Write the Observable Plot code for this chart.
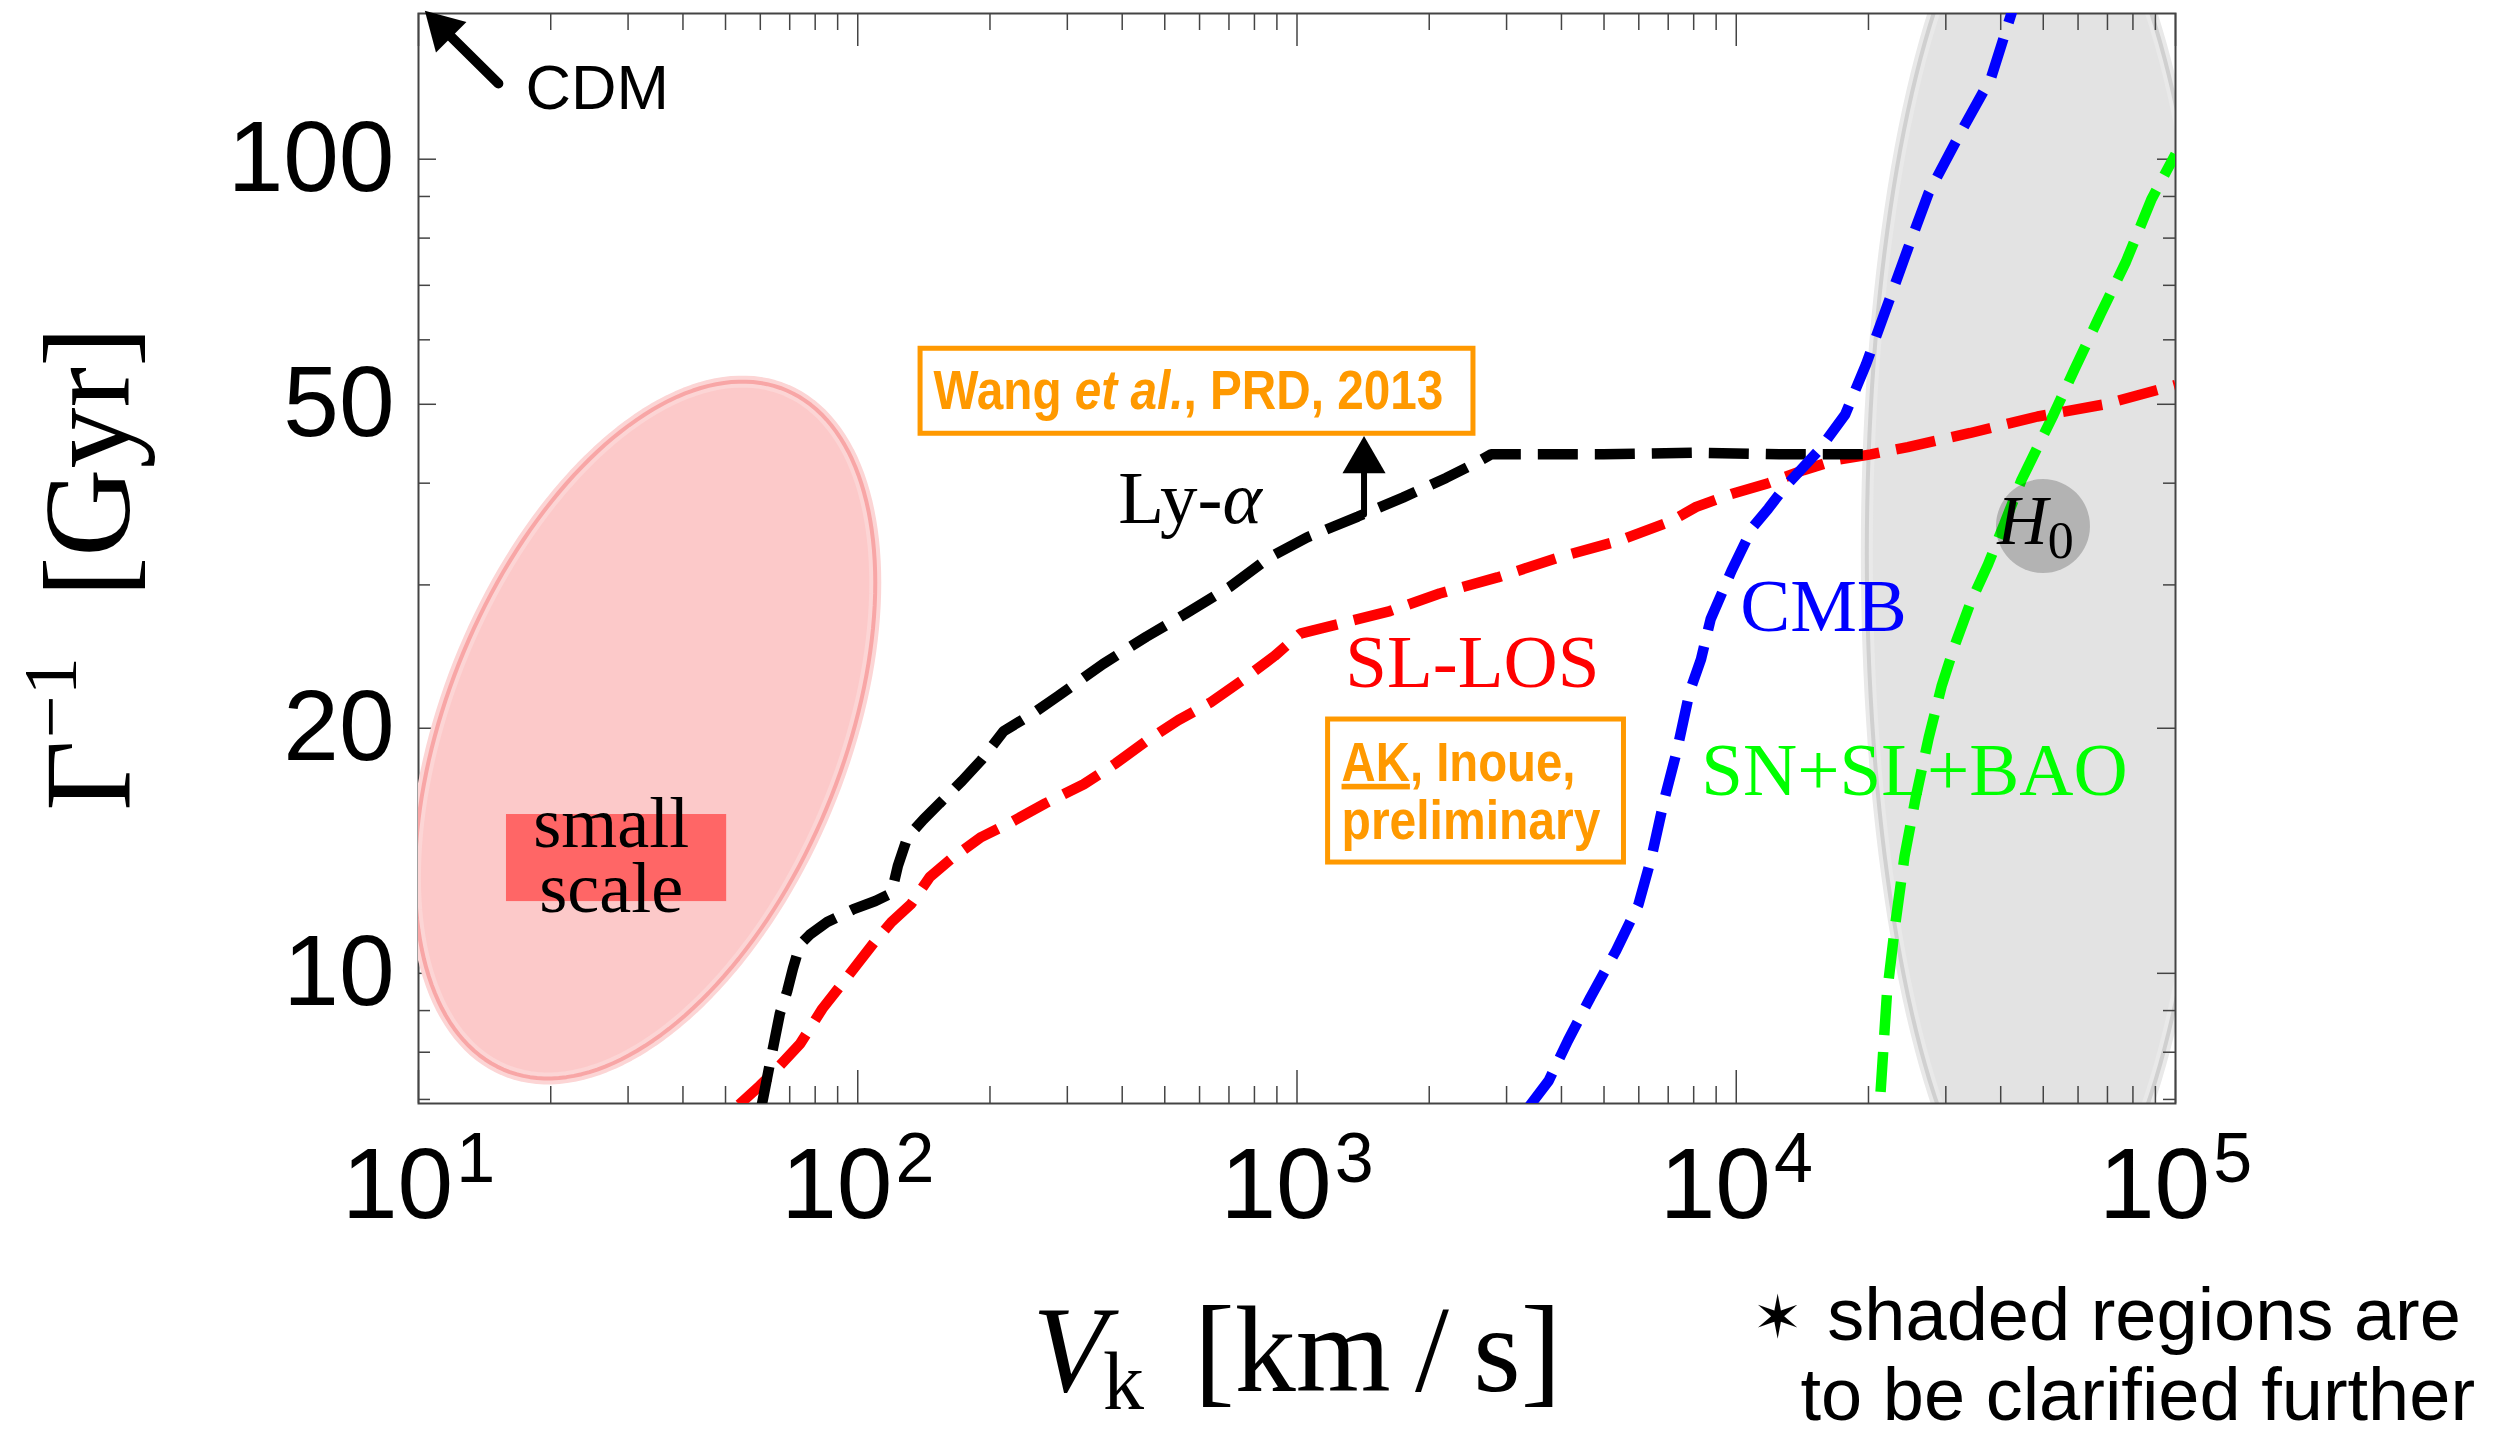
<!DOCTYPE html>
<html>
<head>
<meta charset="utf-8">
<script src="https://cdn.jsdelivr.net/npm/d3@7"></script>
<script src="https://cdn.jsdelivr.net/npm/@observablehq/plot@0.6"></script>
<style>
  html, body { margin: 0; padding: 0; background: #fff; }
  #chart svg { display: block; }
</style>
</head>
<body>
<div id="chart"></div>
<script>
// Decaying dark matter: kick velocity V_k [km/s] vs. lifetime Γ^-1 [Gyr]

// ---- constraint curves (lower bounds on the lifetime) ----
const lyaV = [60.4, 62.2, 64.4, 66.5, 69.1, 71.2, 73.9, 77.7, 85.2, 97.5, 109.7, 119.3, 123.4, 129.8, 141.1, 153.5, 172.7, 191, 214.8, 249.9, 285.9, 361.8, 453.9, 555.3, 702.6, 859.9, 1052, 1376, 1741, 2185, 2542, 2765, 4978, 8246, 12540, 20250];
const lyaG = [6.87, 7.45, 8.19, 8.93, 9.51, 10.14, 10.85, 11.15, 11.56, 11.98, 12.27, 12.54, 13.55, 14.70, 15.45, 16.17, 17.23, 18.27, 19.83, 20.84, 21.91, 23.99, 25.91, 27.61, 29.82, 32.35, 34.3, 36.4, 38.4, 40.6, 42.3, 43.4, 43.4, 43.6, 43.4, 43.4];

const slV = [53.7, 59.9, 65.2, 73.9, 83.1, 94.3, 108.8, 119.3, 132, 145.9, 164.2, 191, 225.9, 267.3, 327, 386.9, 453.9, 537, 635.3, 751.6, 889.1, 1017, 1244, 1628, 2112, 2859, 4001, 5415, 7088, 8107, 9750, 11830, 14230, 16840, 20250, 24580, 34110, 48540, 69090, 100000];
const slG = [6.90, 7.28, 7.62, 8.19, 9.05, 9.87, 10.90, 11.56, 12.15, 13.13, 13.86, 14.70, 15.38, 16.17, 17.07, 18.11, 19.29, 20.46, 21.51, 22.92, 24.54, 26.14, 26.86, 27.86, 29.28, 30.64, 32.5, 34.0, 35.9, 37.4, 38.8, 40.0, 41.5, 42.7, 43.4, 44.3, 46.1, 48.3, 50.0, 52.8];

const cmbV = [3382, 3741, 4139, 4655, 5325, 5990, 6407, 6852, 7328, 7838, 8313, 8744, 9750, 10880, 11830, 12870, 15480, 17710, 19750, 22030, 24580, 27420, 32170, 38050, 42440];
const cmbG = [6.87, 7.38, 8.27, 9.34, 10.66, 12.15, 13.86, 16.32, 18.77, 22.21, 24.31, 27.23, 31.2, 35.26, 37.23, 39.5, 44.0, 48.6, 56.0, 65.9, 77.6, 90.9, 107, 126, 151.8];

const snV = [21310, 22030, 22970, 24160, 25630, 27420, 29330, 31370, 34110, 37410, 40690, 44630, 52800, 58900, 67390, 77090, 88160, 100000];
const snG = [7.15, 9.43, 11.40, 13.92, 16.46, 19.47, 22.51, 25.21, 28.49, 31.77, 35.58, 40.39, 48.6, 55.2, 64.4, 74.8, 89.3, 101.4];

// ---- curve labels ----
const curveLabelText = ["Ly-α", "SL-LOS", "CMB", "SN+SL+BAO"];
const curveLabelV = [571, 2508, 15800, 25460];
const curveLabelG = [35.7, 22.46, 26.3, 16.55];
const curveColors = ["#000000", "#ff0000", "#0000ff", "#00ff00"];

// ---- shaded regions (ellipses in log–log space: centre, half-extent in decades, phase) ----
const smallScaleRegion = { cx: 32.8, cy: 19.9, hx: 0.524, hy: 0.428, phase: 65 };
const h0Region = { cx: 49800, cy: 32.8, hx: 0.40, hy: 0.845, phase: 90 };
const h0Spot = { v: 49920, g: 35.43 };
const h0Label = { text: "H0", v: 48010, g: 33.7 };
const smallScaleBox = { v1: 15.86, v2: 50.3, g1: 12.25, g2: 15.67 };
const smallScaleLabel = { text: "small\nscale", v: 27.46, g: 11.91 };

// ---- annotations ----
const cdmArrow = { v1: 15.2, g1: 123.9, v2: 10.37, g2: 151.9 };
const cdmText = { text: "CDM", v: 17.52, g: 115.3 };
const wangBox = { v1: 139, v2: 2522, g1: 46.0, g2: 58.5 };
const wangText = { text: "Wang et al., PRD, 2013", v: 566, g: 49.4 };
const wangArrow = { v1: 1421, g1: 36.6, v2: 1421, g2: 45.6 };
const akBox = { v1: 1177, v2: 5551, g1: 13.68, g2: 20.5 };
const akLines = ["AK, Inoue,", "preliminary"];
const akLinesV = [1263, 1263];
const akLinesG = [17.25, 14.63];
const footnoteLines = ["\u2736 shaded regions are", "to be clarified further"];

// ---- axes ----
const xMajor = [10, 100, 1000, 10000, 100000];
const xMinor = xMajor.slice(0, -1).flatMap(d => [2, 3, 4, 5, 6, 7, 8, 9].map(k => k * d));
const yMajor = [10, 20, 50, 100];
const yMinor = [7, 8, 9, 30, 40, 60, 70, 80, 90];
const xTitle = "Vk [km/s]";
const yTitle = "Γ-1 [Gyr]";

// ---- layout ----
const W = 2513, H = 1436;
const M = { top: 13, right: 338, bottom: 333, left: 418 };
const plotW = W - M.left - M.right;
const plotH = H - M.top - M.bottom;
const SANS = "Liberation Sans, Arial, Helvetica, sans-serif";
const SERIF = "Liberation Serif, Times New Roman, Times, serif";
const ORANGE = "#ff9900";
const FRAME = "#444444";
const DASH = "40,17";
const LINE_W = 10.5;

function ellipsePoints({ cx, cy, hx, hy, phase }, n = 180) {
  const p = phase * Math.PI / 180;
  return d3.range(n + 1).map(i => {
    const t = 2 * Math.PI * i / n;
    return { x: cx * Math.pow(10, hx * Math.cos(t)), y: cy * Math.pow(10, hy * Math.cos(t - p)) };
  });
}
const zipXY = (xs, ys) => xs.map((x, i) => ({ x, y: ys[i] }));

const pinkPts = ellipsePoints(smallScaleRegion);
const grayPts = ellipsePoints(h0Region);
const curveLabels = curveLabelText.map((t, i) => ({ t, v: curveLabelV[i], g: curveLabelG[i], c: curveColors[i] }));
const curves = [
  { pts: zipXY(snV, snG), c: "#00ff00" },
  { pts: zipXY(slV, slG), c: "#ff0000" },
  { pts: zipXY(lyaV, lyaG), c: "#000000" },
  { pts: zipXY(cmbV, cmbG), c: "#0000ff" }
];

const fig = Plot.plot({
  width: W, height: H,
  marginTop: M.top, marginRight: M.right, marginBottom: M.bottom, marginLeft: M.left,
  x: { type: "log", domain: [10, 1e5] },
  y: { type: "log", domain: [6.92, 151] },
  color: { type: "identity" },
  style: { background: "#fff", fontFamily: SANS },
  marks: [
    // H0-type shaded region (drawn beneath the frame ticks)
    Plot.line(grayPts, { x: "x", y: "y", fill: "#e3e3e3", stroke: "#e9e9e9", strokeWidth: 12, clip: true }),
    Plot.line(grayPts, { x: "x", y: "y", stroke: "#d0d0d0", strokeWidth: 4, clip: true }),

    // frame and inward ticks on all four sides
    Plot.frame({ stroke: FRAME, strokeWidth: 2 }),
    Plot.tickX(xMajor, { x: d => d, insetTop: plotH - 33, stroke: FRAME, strokeWidth: 1.5 }),
    Plot.tickX(xMinor, { x: d => d, insetTop: plotH - 17, stroke: FRAME, strokeWidth: 1.5 }),
    Plot.tickX(xMajor, { x: d => d, insetBottom: plotH - 33, stroke: FRAME, strokeWidth: 1.5 }),
    Plot.tickX(xMinor, { x: d => d, insetBottom: plotH - 17, stroke: FRAME, strokeWidth: 1.5 }),
    Plot.tickY(yMajor, { y: d => d, insetRight: plotW - 18, stroke: FRAME, strokeWidth: 1.5 }),
    Plot.tickY(yMinor, { y: d => d, insetRight: plotW - 12, stroke: FRAME, strokeWidth: 1.5 }),
    Plot.tickY(yMajor, { y: d => d, insetLeft: plotW - 18, stroke: FRAME, strokeWidth: 1.5 }),
    Plot.tickY(yMinor, { y: d => d, insetLeft: plotW - 12, stroke: FRAME, strokeWidth: 1.5 }),
    Plot.axisX({ ticks: xMajor, tickSize: 0, tickPadding: 43, tickFormat: d => `10^${Math.round(Math.log10(d))}`, fontSize: 100, fontFamily: SANS, label: null }),
    Plot.axisY({ ticks: yMajor, tickSize: 0, tickPadding: 24, tickFormat: d => String(d), fontSize: 100, fontFamily: SANS, label: null }),

    // small-scale region
    Plot.line(pinkPts, { x: "x", y: "y", fill: "#fcc9c9", stroke: "#fcd5d5", strokeWidth: 12, clip: true }),
    Plot.line(pinkPts, { x: "x", y: "y", stroke: "#f8a6a6", strokeWidth: 4, clip: true }),
    Plot.rect([smallScaleBox], { x1: "v1", x2: "v2", y1: "g1", y2: "g2", fill: "#ff6666" }),
    Plot.text([smallScaleLabel], { x: "v", y: "g", text: "text", fontFamily: SERIF, fontSize: 72, lineHeight: 0.89, fill: "#000", lineAnchor: "bottom", textAnchor: "middle" }),

    // constraint curves
    ...curves.map(c => Plot.line(c.pts, { x: "x", y: "y", stroke: c.c, strokeWidth: LINE_W, strokeDasharray: DASH, strokeLinecap: "butt", strokeLinejoin: "miter", clip: true })),

    // H0 spot
    Plot.dot([h0Spot], { x: "v", y: "g", r: 47, fill: "#000", fillOpacity: 0.21, stroke: null }),
    Plot.text([h0Label], { x: "v", y: "g", text: "text", fontFamily: SERIF, fontSize: 70, fill: "#000", lineAnchor: "bottom", textAnchor: "middle" }),

    // curve labels
    Plot.text(curveLabels, { x: "v", y: "g", text: "t", fill: "c", fontFamily: SERIF, fontSize: 75, lineAnchor: "bottom", textAnchor: "middle" }),

    // CDM arrow
    Plot.arrow([cdmArrow], { x1: "v1", y1: "g1", x2: "v2", y2: "g2", headLength: 0, insetEnd: 30, stroke: "#000", strokeWidth: 10 }),
    Plot.dot([cdmArrow], { x: "v2", y: "g2", symbol: "triangle", r: 16, fill: "#000", stroke: null, rotate: -45, dx: 17, dy: 17 }),
    Plot.text([cdmText], { x: "v", y: "g", text: "text", fontFamily: SANS, fontSize: 63, fill: "#000", lineAnchor: "bottom", textAnchor: "start" }),

    // Wang et al. bound with arrow
    Plot.rect([wangBox], { x1: "v1", x2: "v2", y1: "g1", y2: "g2", fill: "none", stroke: ORANGE, strokeWidth: 5 }),
    Plot.text([wangText], { x: "v", y: "g", text: "text", fontFamily: SANS, fontWeight: "bold", fontSize: 56, fill: ORANGE, lineAnchor: "bottom", textAnchor: "middle" }),
    Plot.arrow([wangArrow], { x1: "v1", y1: "g1", x2: "v2", y2: "g2", headLength: 0, insetEnd: 30, stroke: "#000", strokeWidth: 6 }),
    Plot.dot([wangArrow], { x: "v2", y: "g2", symbol: "triangle", r: 16, fill: "#000", stroke: null, dy: 24 }),

    // preliminary SL-LOS note
    Plot.rect([akBox], { x1: "v1", x2: "v2", y1: "g1", y2: "g2", fill: "none", stroke: ORANGE, strokeWidth: 5 }),
    Plot.text(akLines, { x: (d, i) => akLinesV[i], y: (d, i) => akLinesG[i], text: d => d, fontFamily: SANS, fontWeight: "bold", fontSize: 56, fill: ORANGE, lineAnchor: "bottom", textAnchor: "start" }),

    // axis titles
    Plot.text([xTitle], { frameAnchor: "bottom", dy: 287, text: d => d, fontFamily: SERIF, fontSize: 122, fill: "#000", lineAnchor: "bottom", textAnchor: "middle" }),
    Plot.text([yTitle], { frameAnchor: "left", dx: -290, dy: 10, rotate: -90, text: d => d, fontFamily: SERIF, fontSize: 122, fill: "#000", lineAnchor: "bottom", textAnchor: "middle" }),

    // footnote
    Plot.text([footnoteLines[0]], { frameAnchor: "bottom-right", dx: -423, dy: 236, text: d => d, fontFamily: SANS, fontSize: 74, fill: "#000", lineAnchor: "bottom", textAnchor: "start" }),
    Plot.text([footnoteLines[1]], { frameAnchor: "bottom-right", dx: -375, dy: 316, text: d => d, fontFamily: SANS, fontSize: 74, fill: "#000", lineAnchor: "bottom", textAnchor: "start" })
  ]
});

document.getElementById("chart").appendChild(fig);

// Mixed-style labels: italics, sub/superscripts, underline, condensed bold notes
const richLabels = [
  { plain: "Ly-α", parts: [{ text: "Ly-" }, { text: "α", italic: true }] },
  { plain: "H0", parts: [{ text: "H", italic: true }, { text: "0", size: 52, shift: 14 }] },
  { plain: "Wang et al., PRD, 2013", width: 510, parts: [{ text: "Wang " }, { text: "et al.", italic: true }, { text: ", PRD, 2013" }] },
  { plain: "AK, Inoue,", width: 234, parts: [{ text: "AK", underline: true }, { text: ", Inoue," }] },
  { plain: "preliminary", width: 259, parts: [{ text: "preliminary" }] },
  { plain: footnoteLines[0], parts: [{ text: "\u2736", font: "DejaVu Sans", size: 60, shift: -2 }, { text: " shaded regions are", shift: 0, dx: 4 }] },
  { plain: xTitle, parts: [{ text: "V", italic: true }, { text: "k", size: 82, shift: 18, dx: -4 }, { text: "[km\u2009/\u2009s]", shift: 0, dx: 50 }] },
  { plain: yTitle, parts: [{ text: "Γ" }, { text: "−1", size: 76, shift: -53, dx: 2 }, { text: "[Gyr]", shift: 0, dx: 60 }] },
  ...xMajor.map(d => {
    const k = Math.round(Math.log10(d));
    return { plain: `10^${k}`, parts: [{ text: "10" }, { text: String(k), size: 70, shift: -36, dx: 3 }] };
  })
];

function richify(svg, specs) {
  d3.select(svg).selectAll("text").each(function () {
    const spec = specs.find(s => s.plain === this.textContent);
    if (!spec) return;
    const el = d3.select(this);
    el.selectAll("*").remove();
    el.text(null);
    let shift = 0;
    for (const p of spec.parts) {
      const ts = el.append("tspan").text(p.text);
      if (p.italic) ts.attr("font-style", "italic");
      if (p.underline) ts.style("text-decoration", "underline");
      if (p.size) ts.attr("font-size", p.size);
      if (p.font) ts.attr("font-family", p.font);
      const target = p.shift || 0;
      if (target !== shift) { ts.attr("dy", target - shift); shift = target; }
      if (p.dx) ts.attr("dx", p.dx);
    }
    // condensed face: squeeze horizontally about the anchor point
    if (spec.width) {
      const natural = this.getComputedTextLength();
      const sx = spec.width / natural;
      const tr = el.attr("transform");
      if (tr) {
        el.attr("transform", `${tr} scale(${sx},1)`);
      } else {
        const x = +el.attr("x") || 0, y = +el.attr("y") || 0;
        el.attr("transform", `translate(${x},${y}) scale(${sx},1) translate(${-x},${-y})`);
      }
    }
  });
}
richify(fig, richLabels);
</script>
</body>
</html>
